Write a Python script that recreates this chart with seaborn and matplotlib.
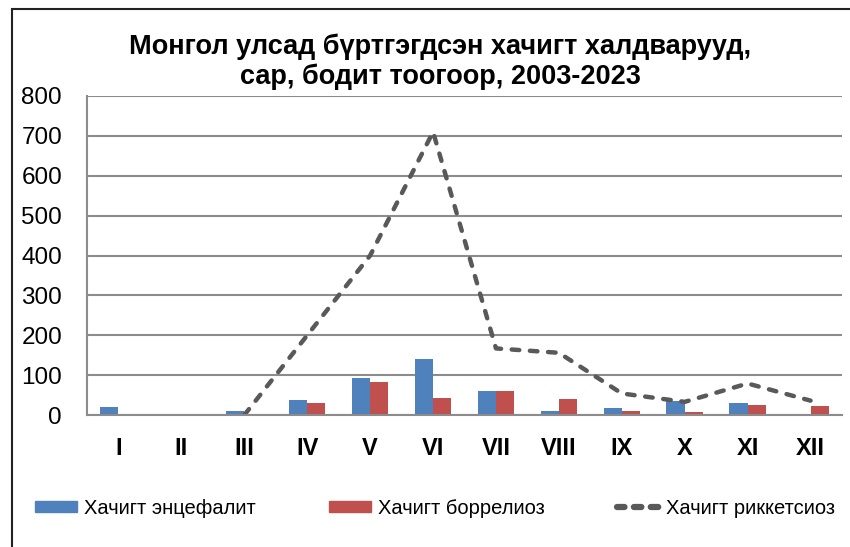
import numpy as np
import pandas as pd
import matplotlib
matplotlib.use("Agg")
import matplotlib.pyplot as plt
import seaborn as sns
from matplotlib.patches import Rectangle

# Data
months = ["I", "II", "III", "IV", "V", "VI", "VII", "VIII", "IX", "X", "XI", "XII"]
encephalitis = [19, 0, 10, 37, 93, 140, 59, 9, 17, 34, 30, 0]
borreliosis = [0, 0, 0, 31, 82, 43, 60, 41, 11, 8, 25, 23]
rickettsiosis = [np.nan, np.nan, 0, 200, 400, 710, 167, 156, 54, 33, 79, 36]

series_names = ["Хачигт энцефалит", "Хачигт боррелиоз", "Хачигт риккетсиоз"]
title_text = "Монгол улсад бүртгэгдсэн хачигт халдварууд,\nсар, бодит тоогоор, 2003-2023"

blue = "#4F81BD"
red = "#C0504D"
grey = "#595959"

sns.set_theme(style="white")
plt.rcParams["font.family"] = ["Liberation Sans", "DejaVu Sans"]
plt.rcParams["text.color"] = "black"

bars = pd.DataFrame({
    "month": months * 2,
    "value": encephalitis + borreliosis,
    "series": [series_names[0]] * 12 + [series_names[1]] * 12,
})
line = pd.DataFrame({"pos": np.arange(len(months)), "value": rickettsiosis})

fig = plt.figure(figsize=(8.5, 5.47), dpi=100)
ax = fig.add_axes([0.1024, 0.2413, 0.8882, 0.5832])

sns.barplot(data=bars, x="month", y="value", hue="series", order=months,
            palette=[blue, red], width=0.58, gap=0, saturation=1,
            linewidth=0, legend=False, ax=ax)
sns.lineplot(data=line, x="pos", y="value", color=grey, linewidth=3.2,
             ax=ax, legend=False)
ax.lines[-1].set_dashes([1.7, 2.4])
ax.lines[-1].set_dash_capstyle("round")
ax.lines[-1].set_solid_joinstyle("round")

ax.set_xlim(-0.5, 11.5)
ax.set_ylim(0, 800)
ax.set_yticks(range(0, 801, 100))
ax.set_xlabel("")
ax.set_ylabel("")
ax.yaxis.grid(True, color="#8c8c8c", linewidth=1.5)
ax.set_axisbelow(True)
for side in ["top", "right"]:
    ax.spines[side].set_visible(False)
for side in ["left", "bottom"]:
    ax.spines[side].set_color("#8c8c8c")
    ax.spines[side].set_linewidth(1.5)
ax.tick_params(axis="y", length=0, pad=18, labelsize=17.5, labelcolor="black")
ax.tick_params(axis="x", length=0, pad=16, labelsize=17, labelcolor="black")
for lbl in ax.get_xticklabels():
    lbl.set_fontweight("bold")

fig.text(0.518, 0.887, title_text, ha="center", va="center", color="black",
         fontsize=19.5, fontweight="bold", linespacing=1.15)

handles = [
    Rectangle((0, 0), 1, 1, color=blue),
    Rectangle((0, 0), 1, 1, color=red),
    plt.Line2D([0], [0], color=grey, linewidth=4.5, dashes=[1.2, 1.5],
               dash_capstyle="round"),
]
fig.legend(handles, series_names, loc="center", bbox_to_anchor=(0.512, 0.071),
           ncol=3, frameon=False, handlelength=2.1, handleheight=0.45,
           columnspacing=3.6, handletextpad=0.35,
           prop={"size": 14.5})

# outer chart frame (right and bottom edges are cut off in the original)
fig.patches.append(Rectangle((12 / 850, -0.1), 1.2, 1.1 - 9 / 547,
                             transform=fig.transFigure, fill=False,
                             edgecolor="#222222", linewidth=1.5))

fig.savefig("out.png", dpi=100)
